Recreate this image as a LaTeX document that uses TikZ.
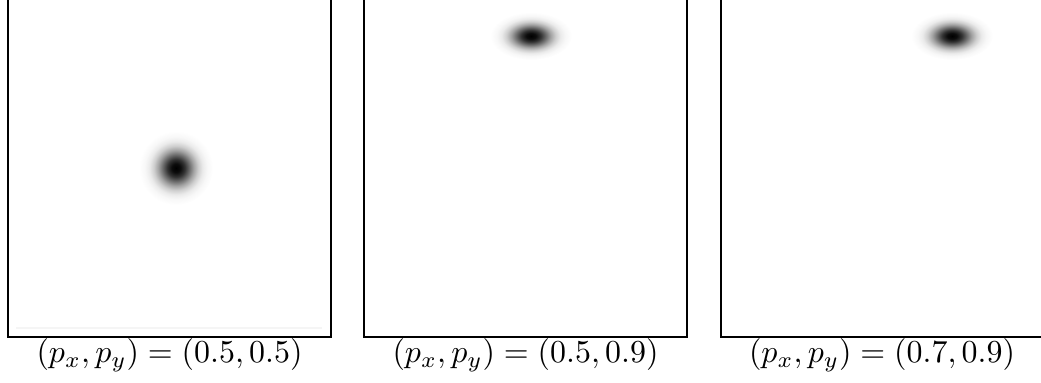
\documentclass[tikz,border=0pt]{standalone}
\usepackage{amsmath}

% Gaussian-like radial profile for the spots
\pgfdeclareradialshading{gaussspot}{\pgfpoint{0bp}{0bp}}{color(0bp)=(black); color(3bp)=(black!95); color(6bp)=(black!80); color(9bp)=(black!58); color(12bp)=(black!36); color(15bp)=(black!19); color(18bp)=(black!8); color(21bp)=(black!3); color(25bp)=(white); color(50bp)=(white)}

\begin{document}
\begin{tikzpicture}[x=0.011cm, y=-0.011cm, line width=0.4pt]
    % Units: 1 = one pixel of the 1041x383 frame, y pointing down
    \useasboundingbox (0,0) rectangle (1041,383);

    % Panel frames (top edges cut off)
    \draw (8,0) -- (8,337) -- (331,337) -- (331,0);
    \draw[black!4] (16,328) -- (322,328);
    \draw (364,0) -- (364,337) -- (687,337) -- (687,0);
    \draw (721,0) -- (721,337) -- (1041,337);

    % Spots
    \shade[shading=gaussspot] (176,168) circle (37);
    \shade[shading=gaussspot] (531,36) ellipse (41 and 24);
    \shade[shading=gaussspot] (952,36) ellipse (41 and 24);

    % Captions
    \node (capA) at (169.5,355) {$(p_x, p_y) = (0.5, 0.5)$};
    \node (capB) at (525.5,355) {$(p_x, p_y) = (0.5, 0.9)$};
    \node (capC) at (882,355) {$(p_x, p_y) = (0.7, 0.9)$};
\end{tikzpicture}
\end{document}
